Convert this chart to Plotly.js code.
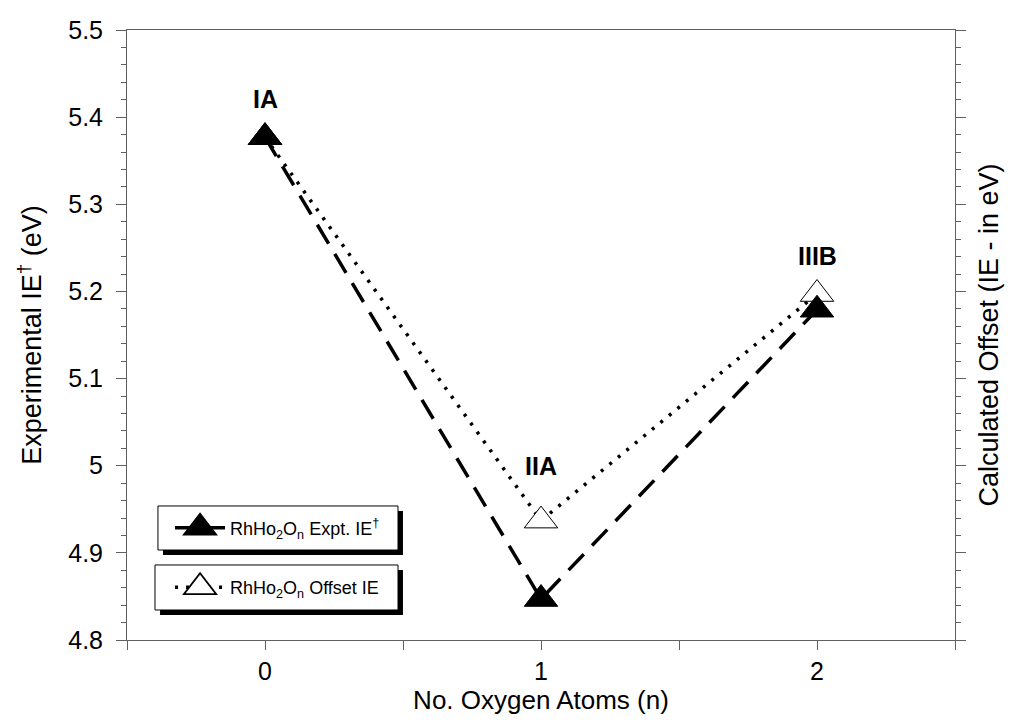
<!DOCTYPE html>
<html>
<head>
<meta charset="utf-8">
<script src="https://cdn.plot.ly/plotly-3.0.1.min.js"></script>
<style>html,body{margin:0;padding:0;background:#fff;}#chart{width:1016px;height:720px;}</style>
</head>
<body>
<div id="chart"></div>
<script>
// Data
var nOxygen = [0, 1, 2];
var exptIE = [5.377, 4.847, 5.179];
var offsetIE = [5.377, 4.937, 5.197];
var isomerLabels = ['IA', 'IIA', 'IIIB'];
var labelSeries = ['expt', 'offset', 'offset'];
var xTickVals = [0, 1, 2];
var xTickText = ['0', '1', '2'];
var yTickVals = [4.8, 4.9, 5, 5.1, 5.2, 5.3, 5.4, 5.5];
var yTickText = ['4.8', '4.9', '5', '5.1', '5.2', '5.3', '5.4', '5.5'];

var axisColor = '#606060';
var font = 'Liberation Sans, Arial, sans-serif';

var traces = [
  {
    x: nOxygen, y: offsetIE, type: 'scatter', mode: 'lines+markers',
    name: 'RhHo<sub>2</sub>O<sub>n</sub> Offset IE',
    line: {color: '#000', width: 3.5, dash: '3px,8px'},
    marker: {symbol: 'triangle-up', size: 29, color: '#fff', line: {color: '#000', width: 1}},
    legend: 'legend2', cliponaxis: false
  },
  {
    x: nOxygen, y: exptIE, type: 'scatter', mode: 'lines+markers',
    name: 'RhHo<sub>2</sub>O<sub>n</sub> Expt. IE<sup>†</sup>',
    line: {color: '#000', width: 3.5, dash: '22px,12px'},
    marker: {symbol: 'triangle-up', size: 29, color: '#000', line: {color: '#000', width: 1}},
    legend: 'legend', cliponaxis: false
  },
  {
    x: nOxygen, y: exptIE, type: 'scatter', mode: 'none', yaxis: 'y2',
    showlegend: false, hoverinfo: 'skip'
  }
];

var annotations = isomerLabels.map(function (t, i) {
  var yv = labelSeries[i] === 'expt' ? exptIE[i] : offsetIE[i];
  return {
    x: nOxygen[i], y: yv, xref: 'x', yref: 'y', text: '<b>' + t + '</b>',
    showarrow: false, yshift: i === 1 ? 55 : 38,
    font: {family: font, size: 25, color: '#000'}
  };
});

function box(x0, y0, x1, y1, fill) {
  return {type: 'rect', xref: 'paper', yref: 'paper', x0: x0, x1: x1, y0: y0, y1: y1,
    fillcolor: fill, line: {color: '#000', width: fill === '#000' ? 0 : 1}, layer: 'above'};
}

var layout = {
  width: 1016, height: 720,
  margin: {l: 127, r: 61, t: 30, b: 80},
  paper_bgcolor: '#fff', plot_bgcolor: '#fff',
  font: {family: font, color: '#000'},
  showlegend: true,
  xaxis: {
    range: [-0.5, 2.5], tickvals: xTickVals, ticktext: xTickText,
    ticks: 'outside', ticklen: 9, tickwidth: 1, tickcolor: axisColor,
    minor: {dtick: 0.5, tick0: 0.5, ticks: 'outside', ticklen: 9, tickcolor: axisColor, showgrid: false},
    showline: true, linecolor: axisColor, linewidth: 1, mirror: true,
    showgrid: false, zeroline: false,
    tickfont: {size: 25, family: font},
    title: {text: 'No. Oxygen Atoms (n)', font: {size: 26, family: font}, standoff: 6}
  },
  yaxis: {
    range: [4.8, 5.5], tickvals: yTickVals, ticktext: yTickText,
    ticks: 'outside', ticklen: 10, tickwidth: 1, tickcolor: axisColor,
    minor: {dtick: 0.02, tick0: 4.8, ticks: 'outside', ticklen: 5, tickcolor: axisColor, showgrid: false},
    showline: true, linecolor: axisColor, linewidth: 1,
    showgrid: false, zeroline: false, ticklabelstandoff: 8,
    tickfont: {size: 25, family: font},
    title: {text: 'Experimental IE<sup>†</sup> (eV)', font: {size: 27, family: font}, standoff: 18}
  },
  yaxis2: {
    overlaying: 'y', side: 'right', range: [4.8, 5.5], dtick: 0.1,
    showticklabels: false,
    ticks: 'outside', ticklen: 10, tickwidth: 1, tickcolor: axisColor,
    minor: {dtick: 0.02, tick0: 4.8, ticks: 'outside', ticklen: 5, tickcolor: axisColor, showgrid: false},
    showline: true, linecolor: axisColor, linewidth: 1,
    showgrid: false, zeroline: false,
    title: {text: 'Calculated Offset (IE - in eV)', font: {size: 27, family: font}, standoff: 14}
  },
  legend: {
    x: 0.052, y: 0.1836, xanchor: 'left', yanchor: 'middle',
    bgcolor: 'rgba(0,0,0,0)', borderwidth: 0,
    font: {size: 18, family: font}, itemwidth: 50
  },
  legend2: {
    x: 0.052, y: 0.0860, xanchor: 'left', yanchor: 'middle',
    bgcolor: 'rgba(0,0,0,0)', borderwidth: 0,
    font: {size: 18, family: font}, itemwidth: 50
  },
  shapes: [
    box(0.0435, 0.1393, 0.3333, 0.2115, '#000'),
    box(0.0374, 0.1475, 0.3273, 0.2197, '#fff'),
    box(0.0399, 0.0410, 0.3333, 0.1148, '#000'),
    box(0.0338, 0.0492, 0.3273, 0.1230, '#fff')
  ],
  annotations: annotations
};

Plotly.newPlot('chart', traces, layout, {displayModeBar: false, staticPlot: true}).then(function () {
  // enlarge legend symbols (both legends) to match the plotted markers
  document.querySelectorAll('.legendpoints path.scatterpts').forEach(function (p) {
    var t = p.getAttribute('transform') || '';
    if (t.indexOf('scale') < 0) p.setAttribute('transform', t + ' scale(1.75)');
  });
});
</script>
</body>
</html>
